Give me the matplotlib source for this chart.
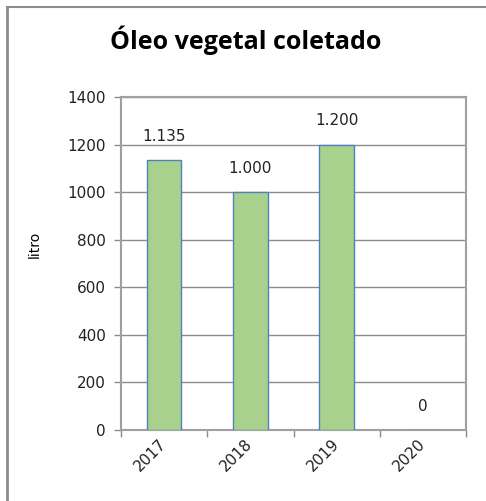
import matplotlib.pyplot as plt
import matplotlib.transforms as mtransforms
from matplotlib.lines import Line2D

# data
anos = ['2017', '2018', '2019', '2020']
litros = [1135, 1000, 1200, 0]
rotulos = ['1.135', '1.000', '1.200', '0']
yticks = [0, 200, 400, 600, 800, 1000, 1200, 1400]

plt.rcParams['font.family'] = ['DejaVu Sans']

W, H = 486, 501
fig = plt.figure(figsize=(W / 100, H / 100), dpi=100)
ax = fig.add_axes([121 / W, 1 - 430 / H, 345 / W, 333 / H])

x = list(range(len(anos)))
ax.bar(x, litros, width=0.4, color='#a9d18e', edgecolor='#4f81bd', linewidth=1, zorder=3)

# value labels
for xi, v, r in zip(x, litros, rotulos):
    ax.annotate(r, (xi, v), xytext=(0, 17), textcoords='offset points',
                ha='center', va='center', fontsize=11, color='#222222')

ax.set_xlim(-0.5, len(anos) - 0.5)
ax.set_ylim(0, 1400)
ax.set_yticks(yticks)
ax.set_yticklabels([str(t) for t in yticks], fontsize=11, color='#222222')
ax.yaxis.grid(True, color='#8c8c8c', linewidth=1, zorder=0)

# category boundaries get the ticks, labels sit in the middle
ax.set_xticks([i - 0.5 for i in range(len(anos) + 1)])
ax.set_xticklabels([''] * (len(anos) + 1))
ax.set_xticks(x, minor=True)
labs = ax.set_xticklabels(anos, minor=True, rotation=45, fontsize=11, color='#222222',
                          ha='right', va='center', rotation_mode='anchor')
off = mtransforms.ScaledTranslation(5 / 100, -7 / 100, fig.dpi_scale_trans)
for t in labs:
    t.set_transform(t.get_transform() + off)
ax.tick_params(axis='x', which='minor', length=0, pad=8)
ax.tick_params(axis='x', which='major', length=5, color='#8c8c8c', width=1)
ax.tick_params(axis='y', length=5, color='#8c8c8c', width=1, pad=6)

for s in ax.spines.values():
    s.set_color('#a0a0a0')
    s.set_linewidth(1.5)

ax.set_ylabel('litro', fontsize=10)
ax.yaxis.set_label_coords(42 / W, 1 - 244 / H, transform=fig.transFigure)
fig.text(246 / W, 1 - 40 / H, 'Óleo vegetal coletado', ha='center', va='center',
         fontsize=18, fontweight='bold', family=['Open Sans', 'DejaVu Sans'])

# outer frame (left and top edges)
fig.add_artist(Line2D([7 / W, 7 / W], [0, 1 - 7 / H], color='#8c8c8c', linewidth=2))
fig.add_artist(Line2D([7 / W, 1], [1 - 7 / H, 1 - 7 / H], color='#8c8c8c', linewidth=1.5))

fig.savefig('out.png', dpi=100)
